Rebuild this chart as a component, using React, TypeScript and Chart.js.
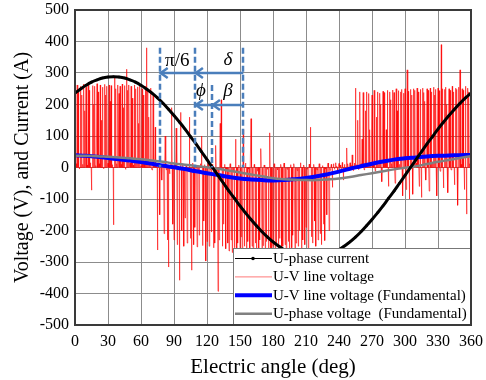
import React, { useEffect, useRef } from 'react';
import { Chart, registerables } from 'chart.js';

Chart.register(...registerables);

const SERIF = '"Liberation Serif", "Times New Roman", serif';

// U-phase current, every 5 deg from 0 to 360
const currentStep = 5;
const uPhaseCurrent = [
  236, 249, 261, 271, 278, 284, 287, 288, 287, 284, 278, 271, 261, 249, 236,
  221, 204, 185, 165, 144, 122, 98, 75, 50, 25, 0, -25, -50, -75, -98,
  -122, -144, -165, -185, -204, -221, -236, -249, -261, -271, -278, -284, -287, -288, -287,
  -284, -278, -271, -261, -249, -236, -221, -204, -185, -165, -144, -122, -98, -75, -50,
  -25, 0, 25, 50, 75, 98, 122, 144, 165, 185, 204, 221, 236,
];

// Fundamentals, every 10 deg from 0 to 360
const fundStep = 10;
const uvFundamental = [
  39, 37, 34, 30, 26, 22, 17, 12, 6, 1, -5, -12, -18, -24, -30, -35, -38, -40, -41,
  -40, -37, -33, -28, -21, -13, -4, 4, 12, 19, 25, 29, 32, 35, 37, 38, 39, 40,
];
const uPhaseFundamental = [
  37, 37, 36, 34, 32, 29, 26, 22, 18, 13, 9, 5, 1, -4, -10, -16, -22, -28, -34,
  -37, -39, -40, -40, -38, -35, -30, -24, -18, -12, -6, -1, 4, 11, 18, 24, 30, 36,
];

// U-V line voltage (PWM), one pulse extreme per degree
const uvPwm0to89 = [
  250, 12, 262, 240, -5, 258, 230, 10, 265, 180,
  255, 8, 262, 245, 15, -72, 260, 200, 258, 6,
  266, 240, 12, 262, 150, 255, -4, 264, 230, 258,
  14, 262, 210, 260, 9, -182, 290, 250, 12, 262,
  235, 258, 10, 265, 190, 260, -6, 312, 245, 262,
  14, 258, 220, 8, 262, 250, 16, 256, 140, 262,
  5, 250, 230, 12, 258, 380, 245, 160, 10, 252,
  -8, 230, 14, 128, 6, -262, 15, -150, 8, -40,
  12, -210, 100, -8, -230, -316, -20, 10, 190, -180,
];
const uvPwm90to179 = [
  -230, 10, 125, -245, -6, -358, 175, -200, 12, -250,
  -160, 8, -240, -12, 160, -225, -326, 14, -245, -190,
  6, -252, -10, -215, 12, 100, -248, -170, 9, -297,
  -235, 15, -250, -8, -205, 11, -255, -240, 70, -12,
  -393, -230, 140, 215, -250, -180, 10, -258, -6, -240,
  -265, 12, -230, -270, -15, -255, 90, -275, -240, 8,
  -260, -220, -270, 120, -250, 14, -280, -235, -5, -265,
  155, -250, -270, 10, -240, -260, -12, -275, -230, 60,
  -265, -248, 8, -270, -235, -6, -260, 110, -255, -270,
];
const uvPwm180to269 = [
  -250, 12, -265, -240, -8, -270, -225, 10, -260, -250,
  14, -245, -270, -6, -235, -260, 9, -255, -215, 12,
  -268, -240, -10, -250, -200, 15, -262, -230, 8, -245,
  -190, -5, -255, 11, 128, -220, -240, 10, -170, -250,
  -8, -230, 12, -210, -245, 6, -180, -232, -4, -150,
  14, -200, -9, 10, -63, 12, -6, 15, 4, -10,
  13, 8, -5, 16, -40, 10, -3, 62, 12, -8,
  15, 6, 40, -10, 14, 252, 9, 150, -6, 240,
  12, 90, 238, -8, 180, 240, 10, 235, 120, 14,
];
const uvPwm270to360 = [
  230, 8, 245, -12, 160, 240, 10, 236, 200, -45,
  242, 238, 14, 120, 245, -60, 240, 215, 12, 246,
  238, -50, 250, 180, 244, 10, 240, 248, -90, 236,
  250, -70, 310, 242, -100, 248, 230, -85, 250, 245,
  14, 252, 240, -60, 248, -95, 252, 238, 210, -40,
  250, 245, -75, 252, 240, 12, 255, 230, 248, -90,
  252, 244, -12, 390, 250, -65, 248, 255, 200, -80,
  250, 245, -8, 258, 240, -55, 252, 248, -120, 255,
  310, 10, 250, 245, -70, 258, -148, 252, 240, 12, 250,
];

// Annotation angles (deg) and heights
const markerAngles = [77, 109, 124.5, 153];
const markerTops = [380, 380, 262, 380];
const upperArrowLevel = 300;
const upperArrowSpan = [153, 77];
const upperArrowHeads = [77, 109];
const lowerArrowLevel = 200;
const lowerArrowSpan = [153, 109];
const lowerArrowHeads = [109, 124.5];
const annoLabels = ['π/6', 'δ', 'ϕ', 'β'];
const annoLabelAngles = [93, 139, 114.5, 139];
const annoLabelLevels = [338, 342, 243, 243];
const annoLabelItalic = [false, true, true, true];

const seriesLabels = [
  'U-phase current',
  'U-V line voltage',
  'U-V line voltage (Fundamental)',
  'U-phase voltage  (Fundamental)',
];

const ANNO_COLOR = '#4a7ebb';

const overlayPlugin = {
  id: 'overlay',
  afterDatasetsDraw(chart: any) {
    const { ctx, chartArea } = chart;
    const xs = chart.scales.x;
    const ys = chart.scales.y;
    ctx.save();
    // dashed markers
    ctx.strokeStyle = ANNO_COLOR;
    ctx.lineWidth = 2.5;
    ctx.setLineDash([6, 3]);
    markerAngles.forEach((a, i) => {
      const px = Math.round(xs.getPixelForValue(a));
      ctx.beginPath();
      ctx.moveTo(px, ys.getPixelForValue(markerTops[i]));
      ctx.lineTo(px, ys.getPixelForValue(0));
      ctx.stroke();
    });
    ctx.setLineDash([]);
    const drawArrow = (level: number, span: number[], heads: number[]) => {
      const py = Math.round(ys.getPixelForValue(level));
      ctx.beginPath();
      ctx.moveTo(xs.getPixelForValue(span[0]), py);
      ctx.lineTo(xs.getPixelForValue(span[1]), py);
      ctx.stroke();
      heads.forEach((h) => {
        const hx = xs.getPixelForValue(h) + 1;
        ctx.beginPath();
        ctx.moveTo(hx + 7, py - 5);
        ctx.lineTo(hx, py);
        ctx.lineTo(hx + 7, py + 5);
        ctx.stroke();
      });
    };
    drawArrow(upperArrowLevel, upperArrowSpan, upperArrowHeads);
    drawArrow(lowerArrowLevel, lowerArrowSpan, lowerArrowHeads);
    // labels
    ctx.fillStyle = '#000';
    ctx.textAlign = 'center';
    ctx.textBaseline = 'middle';
    annoLabels.forEach((t, i) => {
      ctx.font = (annoLabelItalic[i] ? 'italic ' : '') + '19px ' + SERIF;
      ctx.fillText(t, xs.getPixelForValue(annoLabelAngles[i]), ys.getPixelForValue(annoLabelLevels[i]));
    });

    // legend box
    const lw = 238;
    const lh = 77;
    const lx = chartArea.right - lw;
    const ly = chartArea.bottom - lh;
    ctx.fillStyle = '#fff';
    ctx.fillRect(lx, ly, lw, lh);
    ctx.strokeStyle = '#777';
    ctx.lineWidth = 1;
    ctx.strokeRect(lx + 0.5, ly + 0.5, lw - 1, lh - 1);
    const ds = chart.data.datasets;
    ctx.font = '15px ' + SERIF;
    ctx.textAlign = 'left';
    ctx.textBaseline = 'middle';
    seriesLabels.forEach((lab, i) => {
      const ry = ly + 10.5 + i * 18.4;
      const d = ds[i];
      ctx.beginPath();
      ctx.strokeStyle = i === 0 ? '#000' : i === 1 ? 'rgba(255,120,120,1)' : d.borderColor;
      ctx.lineWidth = i === 0 ? 1 : i === 1 ? 1 : d.borderWidth;
      ctx.moveTo(lx + 2, ry);
      ctx.lineTo(lx + 39, ry);
      ctx.stroke();
      if (i === 0) {
        ctx.fillStyle = '#000';
        ctx.beginPath();
        ctx.arc(lx + 20, ry, 1.8, 0, Math.PI * 2);
        ctx.fill();
      }
      ctx.fillStyle = '#000';
      ctx.fillText(lab, lx + 40, ry + 0.5);
    });

    // plot frame
    ctx.strokeStyle = '#3a3a3a';
    ctx.lineWidth = 2;
    ctx.strokeRect(chartArea.left, chartArea.top, chartArea.right - chartArea.left, chartArea.bottom - chartArea.top);
    ctx.restore();
  },
};

export default function App() {
  const ref = useRef<HTMLCanvasElement | null>(null);
  useEffect(() => {
    document.body.style.margin = '0';
    const canvas = ref.current;
    if (!canvas) return;

    const currentData = uPhaseCurrent.map((v, i) => ({ x: i * currentStep, y: v }));
    const uvFundData = uvFundamental.map((v, i) => ({ x: i * fundStep, y: v }));
    const uFundData = uPhaseFundamental.map((v, i) => ({ x: i * fundStep, y: v }));
    const pwm = [...uvPwm0to89, ...uvPwm90to179, ...uvPwm180to269, ...uvPwm270to360];
    const pwmData: { x: number; y: number }[] = [];
    pwm.forEach((v, i) => {
      pwmData.push({ x: i - 0.3, y: 0 }, { x: i, y: v }, { x: i + 0.3, y: 0 });
    });

    const chart = new Chart(canvas, {
      type: 'line',
      data: {
        datasets: [
          {
            label: seriesLabels[0],
            data: currentData,
            borderColor: '#000',
            backgroundColor: '#000',
            borderWidth: 3,
            pointRadius: 1.3,
            pointBorderWidth: 0,
            tension: 0.4,
            order: 0,
          },
          {
            label: seriesLabels[1],
            data: pwmData,
            borderColor: 'rgba(255,0,0,0.6)',
            borderWidth: 1,
            pointRadius: 0,
            tension: 0,
            order: 3,
          },
          {
            label: seriesLabels[2],
            data: uvFundData,
            borderColor: '#0000ff',
            borderWidth: 4,
            pointRadius: 0,
            tension: 0.4,
            order: 2,
          },
          {
            label: seriesLabels[3],
            data: uFundData,
            borderColor: '#808080',
            borderWidth: 2.5,
            pointRadius: 0,
            tension: 0.4,
            order: 1,
          },
        ],
      },
      options: {
        animation: false,
        responsive: false,
        events: [],
        layout: { padding: { top: 10, right: 15, left: 0, bottom: 0 } },
        plugins: { legend: { display: false }, tooltip: { enabled: false } },
        scales: {
          x: {
            type: 'linear',
            min: 0,
            max: 360,
            afterFit: (s: any) => {
              s.height = 55;
              s.paddingLeft = 0;
              s.paddingRight = 0;
            },
            ticks: { stepSize: 30, color: '#000', font: { family: SERIF, size: 16 }, padding: 7, maxRotation: 0 },
            grid: { color: '#8c8c8c', lineWidth: 1, drawTicks: false },
            border: { display: false },
            title: { display: true, text: 'Electric angle (deg)', color: '#000', font: { family: SERIF, size: 21 }, padding: { top: 0, bottom: 0 } },
          },
          y: {
            type: 'linear',
            min: -500,
            max: 500,
            afterFit: (s: any) => {
              s.width = 75;
              s.paddingTop = 0;
              s.paddingBottom = 0;
            },
            ticks: { stepSize: 100, color: '#000', font: { family: SERIF, size: 16 }, padding: 6 },
            grid: { color: '#8c8c8c', lineWidth: 1, drawTicks: false },
            border: { display: false },
            title: { display: true, text: 'Voltage (V), and Current (A)', color: '#000', font: { family: SERIF, size: 20 }, padding: { top: 11, bottom: 0 } },
          },
        },
      },
      plugins: [overlayPlugin],
    } as any);
    return () => chart.destroy();
  }, []);
  return <canvas ref={ref} width={486} height={380} style={{ display: 'block', width: 486, height: 380 }} />;
}
